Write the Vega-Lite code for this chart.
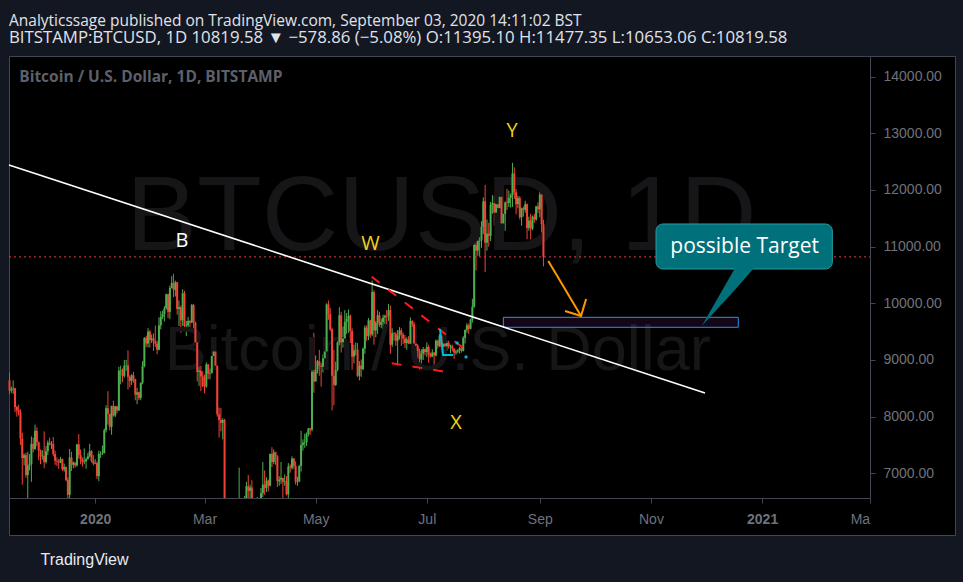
{
  "$schema": "https://vega.github.io/schema/vega-lite/v6.json",
  "width": 946,
  "height": 479,
  "autosize": {"type": "none"},
  "padding": {"left": 9, "top": 56, "right": 8, "bottom": 47},
  "background": "#131722",
  "view": {"fill": "#000000", "stroke": "#434651", "strokeWidth": 1},
  "title": {
    "text": "Analyticssage published on TradingView.com, September 03, 2020 14:11:02 BST",
    "subtitle": "BITSTAMP:BTCUSD, 1D 10819.58 ▼ −578.86 (−5.08%) O:11395.10 H:11477.35 L:10653.06 C:10819.58",
    "anchor": "start",
    "frame": "group",
    "orient": "top",
    "font": "Open Sans",
    "fontSize": 15.5,
    "fontWeight": "normal",
    "color": "#e0e3eb",
    "subtitleFont": "Open Sans",
    "subtitleFontSize": 16.8,
    "subtitleFontWeight": "normal",
    "subtitleColor": "#e0e3eb",
    "subtitlePadding": 1,
    "offset": 9
  },
  "datasets": {
    "candles": [
      {"d":"2019-11-15","o":8640,"h":8780,"l":8400,"c":8460},
      {"d":"2019-11-16","o":8460,"h":8530,"l":8420,"c":8490},
      {"d":"2019-11-17","o":8490,"h":8640,"l":8400,"c":8500},
      {"d":"2019-11-18","o":8500,"h":8510,"l":8080,"c":8170},
      {"d":"2019-11-19","o":8170,"h":8190,"l":8000,"c":8110},
      {"d":"2019-11-20","o":8110,"h":8210,"l":8020,"c":8070},
      {"d":"2019-11-21","o":8070,"h":8130,"l":7500,"c":7610},
      {"d":"2019-11-22","o":7610,"h":7720,"l":6800,"c":7270},
      {"d":"2019-11-23","o":7270,"h":7350,"l":7140,"c":7320},
      {"d":"2019-11-24","o":7320,"h":7360,"l":6920,"c":6970},
      {"d":"2019-11-25","o":6970,"h":7380,"l":6530,"c":7140},
      {"d":"2019-11-26","o":7140,"h":7340,"l":7050,"c":7160},
      {"d":"2019-11-27","o":7160,"h":7650,"l":6850,"c":7520},
      {"d":"2019-11-28","o":7520,"h":7630,"l":7370,"c":7430},
      {"d":"2019-11-29","o":7430,"h":7860,"l":7410,"c":7750},
      {"d":"2019-11-30","o":7750,"h":7810,"l":7480,"c":7550},
      {"d":"2019-12-01","o":7550,"h":7560,"l":7230,"c":7400},
      {"d":"2019-12-02","o":7400,"h":7420,"l":7160,"c":7300},
      {"d":"2019-12-03","o":7300,"h":7410,"l":7240,"c":7310},
      {"d":"2019-12-04","o":7310,"h":7740,"l":7090,"c":7200},
      {"d":"2019-12-05","o":7200,"h":7480,"l":7170,"c":7390},
      {"d":"2019-12-06","o":7390,"h":7580,"l":7320,"c":7540},
      {"d":"2019-12-07","o":7540,"h":7630,"l":7490,"c":7510},
      {"d":"2019-12-08","o":7510,"h":7570,"l":7430,"c":7520},
      {"d":"2019-12-09","o":7520,"h":7640,"l":7300,"c":7340},
      {"d":"2019-12-10","o":7340,"h":7400,"l":7150,"c":7220},
      {"d":"2019-12-11","o":7220,"h":7280,"l":7130,"c":7210},
      {"d":"2019-12-12","o":7210,"h":7250,"l":7080,"c":7190},
      {"d":"2019-12-13","o":7190,"h":7290,"l":7180,"c":7250},
      {"d":"2019-12-14","o":7250,"h":7260,"l":7040,"c":7070},
      {"d":"2019-12-15","o":7070,"h":7170,"l":7030,"c":7110},
      {"d":"2019-12-16","o":7110,"h":7120,"l":6860,"c":6880},
      {"d":"2019-12-17","o":6880,"h":6930,"l":6560,"c":6620},
      {"d":"2019-12-18","o":6620,"h":7430,"l":6430,"c":7280},
      {"d":"2019-12-19","o":7280,"h":7380,"l":7040,"c":7150},
      {"d":"2019-12-20","o":7150,"h":7210,"l":7090,"c":7190},
      {"d":"2019-12-21","o":7190,"h":7190,"l":7100,"c":7140},
      {"d":"2019-12-22","o":7140,"h":7520,"l":7120,"c":7510},
      {"d":"2019-12-23","o":7510,"h":7690,"l":7260,"c":7320},
      {"d":"2019-12-24","o":7320,"h":7420,"l":7160,"c":7250},
      {"d":"2019-12-25","o":7250,"h":7280,"l":7120,"c":7200},
      {"d":"2019-12-26","o":7200,"h":7440,"l":7160,"c":7210},
      {"d":"2019-12-27","o":7210,"h":7280,"l":7080,"c":7250},
      {"d":"2019-12-28","o":7250,"h":7360,"l":7240,"c":7300},
      {"d":"2019-12-29","o":7300,"h":7520,"l":7280,"c":7390},
      {"d":"2019-12-30","o":7390,"h":7410,"l":7190,"c":7220},
      {"d":"2019-12-31","o":7220,"h":7320,"l":7140,"c":7170},
      {"d":"2020-01-01","o":7170,"h":7250,"l":7160,"c":7180},
      {"d":"2020-01-02","o":7180,"h":7210,"l":6900,"c":6950},
      {"d":"2020-01-03","o":6950,"h":7400,"l":6860,"c":7340},
      {"d":"2020-01-04","o":7340,"h":7390,"l":7270,"c":7350},
      {"d":"2020-01-05","o":7350,"h":7490,"l":7320,"c":7355},
      {"d":"2020-01-06","o":7355,"h":7790,"l":7350,"c":7760},
      {"d":"2020-01-07","o":7760,"h":8200,"l":7720,"c":8150},
      {"d":"2020-01-08","o":8150,"h":8450,"l":7860,"c":8050},
      {"d":"2020-01-09","o":8050,"h":8050,"l":7760,"c":7820},
      {"d":"2020-01-10","o":7820,"h":8190,"l":7680,"c":8190},
      {"d":"2020-01-11","o":8190,"h":8280,"l":8000,"c":8020},
      {"d":"2020-01-12","o":8020,"h":8190,"l":7990,"c":8180},
      {"d":"2020-01-13","o":8180,"h":8190,"l":8060,"c":8110},
      {"d":"2020-01-14","o":8110,"h":8880,"l":8100,"c":8810},
      {"d":"2020-01-15","o":8810,"h":8900,"l":8570,"c":8820},
      {"d":"2020-01-16","o":8820,"h":8850,"l":8610,"c":8720},
      {"d":"2020-01-17","o":8720,"h":9000,"l":8690,"c":8900},
      {"d":"2020-01-18","o":8900,"h":9000,"l":8810,"c":8905},
      {"d":"2020-01-19","o":8905,"h":9170,"l":8480,"c":8700},
      {"d":"2020-01-20","o":8700,"h":8730,"l":8520,"c":8630},
      {"d":"2020-01-21","o":8630,"h":8750,"l":8560,"c":8730},
      {"d":"2020-01-22","o":8730,"h":8790,"l":8600,"c":8660},
      {"d":"2020-01-23","o":8660,"h":8670,"l":8290,"c":8390},
      {"d":"2020-01-24","o":8390,"h":8510,"l":8220,"c":8430},
      {"d":"2020-01-25","o":8430,"h":8440,"l":8290,"c":8330},
      {"d":"2020-01-26","o":8330,"h":8600,"l":8290,"c":8600},
      {"d":"2020-01-27","o":8600,"h":8980,"l":8570,"c":8890},
      {"d":"2020-01-28","o":8890,"h":9400,"l":8870,"c":9390},
      {"d":"2020-01-29","o":9390,"h":9430,"l":9230,"c":9290},
      {"d":"2020-01-30","o":9290,"h":9560,"l":9220,"c":9500},
      {"d":"2020-01-31","o":9500,"h":9530,"l":9220,"c":9350},
      {"d":"2020-02-01","o":9350,"h":9450,"l":9300,"c":9380},
      {"d":"2020-02-02","o":9380,"h":9470,"l":9160,"c":9330},
      {"d":"2020-02-03","o":9330,"h":9610,"l":9230,"c":9290},
      {"d":"2020-02-04","o":9290,"h":9340,"l":9100,"c":9180},
      {"d":"2020-02-05","o":9180,"h":9750,"l":9170,"c":9610},
      {"d":"2020-02-06","o":9610,"h":9860,"l":9540,"c":9760},
      {"d":"2020-02-07","o":9760,"h":9870,"l":9720,"c":9810},
      {"d":"2020-02-08","o":9810,"h":9950,"l":9680,"c":9910},
      {"d":"2020-02-09","o":9910,"h":10170,"l":9890,"c":10160},
      {"d":"2020-02-10","o":10160,"h":10170,"l":9740,"c":9850},
      {"d":"2020-02-11","o":9850,"h":10310,"l":9720,"c":10270},
      {"d":"2020-02-12","o":10270,"h":10480,"l":10260,"c":10360},
      {"d":"2020-02-13","o":10360,"h":10520,"l":10110,"c":10240},
      {"d":"2020-02-14","o":10240,"h":10400,"l":10120,"c":10370},
      {"d":"2020-02-15","o":10370,"h":10380,"l":9800,"c":9900},
      {"d":"2020-02-16","o":9900,"h":10050,"l":9600,"c":9930},
      {"d":"2020-02-17","o":9930,"h":9960,"l":9480,"c":9700},
      {"d":"2020-02-18","o":9700,"h":10250,"l":9600,"c":10180},
      {"d":"2020-02-19","o":10180,"h":10220,"l":9580,"c":9600},
      {"d":"2020-02-20","o":9600,"h":9690,"l":9420,"c":9610},
      {"d":"2020-02-21","o":9610,"h":9760,"l":9560,"c":9690},
      {"d":"2020-02-22","o":9690,"h":9700,"l":9580,"c":9660},
      {"d":"2020-02-23","o":9660,"h":9990,"l":9650,"c":9970},
      {"d":"2020-02-24","o":9970,"h":9990,"l":9500,"c":9660},
      {"d":"2020-02-25","o":9660,"h":9680,"l":9260,"c":9310},
      {"d":"2020-02-26","o":9310,"h":9380,"l":8620,"c":8790},
      {"d":"2020-02-27","o":8790,"h":8980,"l":8540,"c":8810},
      {"d":"2020-02-28","o":8810,"h":8900,"l":8450,"c":8710},
      {"d":"2020-02-29","o":8710,"h":8800,"l":8520,"c":8540},
      {"d":"2020-03-01","o":8540,"h":8740,"l":8410,"c":8530},
      {"d":"2020-03-02","o":8530,"h":8960,"l":8510,"c":8920},
      {"d":"2020-03-03","o":8920,"h":8930,"l":8660,"c":8760},
      {"d":"2020-03-04","o":8760,"h":8850,"l":8660,"c":8770},
      {"d":"2020-03-05","o":8770,"h":9140,"l":8760,"c":9070},
      {"d":"2020-03-06","o":9070,"h":9180,"l":8990,"c":9150},
      {"d":"2020-03-07","o":9150,"h":9200,"l":8860,"c":8900},
      {"d":"2020-03-08","o":8900,"h":8900,"l":8000,"c":8040},
      {"d":"2020-03-09","o":8040,"h":8160,"l":7630,"c":7940},
      {"d":"2020-03-10","o":7940,"h":8150,"l":7740,"c":7890},
      {"d":"2020-03-11","o":7890,"h":7970,"l":7600,"c":7940},
      {"d":"2020-03-12","o":7940,"h":7960,"l":4450,"c":4860},
      {"d":"2020-03-13","o":4860,"h":5950,"l":3850,"c":5620},
      {"d":"2020-03-14","o":5620,"h":5640,"l":5080,"c":5180},
      {"d":"2020-03-15","o":5180,"h":5600,"l":5100,"c":5360},
      {"d":"2020-03-16","o":5360,"h":5380,"l":4450,"c":5010},
      {"d":"2020-03-17","o":5010,"h":5550,"l":4950,"c":5330},
      {"d":"2020-03-18","o":5330,"h":5450,"l":5110,"c":5410},
      {"d":"2020-03-19","o":5410,"h":6400,"l":5270,"c":6190},
      {"d":"2020-03-20","o":6190,"h":7100,"l":5700,"c":6200},
      {"d":"2020-03-21","o":6200,"h":6450,"l":5860,"c":6190},
      {"d":"2020-03-22","o":6190,"h":6400,"l":5760,"c":5830},
      {"d":"2020-03-23","o":5830,"h":6600,"l":5700,"c":6470},
      {"d":"2020-03-24","o":6470,"h":6850,"l":6420,"c":6770},
      {"d":"2020-03-25","o":6770,"h":6970,"l":6540,"c":6690},
      {"d":"2020-03-26","o":6690,"h":6800,"l":6540,"c":6750},
      {"d":"2020-03-27","o":6750,"h":6880,"l":6270,"c":6370},
      {"d":"2020-03-28","o":6370,"h":6380,"l":6030,"c":6250},
      {"d":"2020-03-29","o":6250,"h":6270,"l":5860,"c":5880},
      {"d":"2020-03-30","o":5880,"h":6580,"l":5860,"c":6400},
      {"d":"2020-03-31","o":6400,"h":6520,"l":6330,"c":6430},
      {"d":"2020-04-01","o":6430,"h":6740,"l":6160,"c":6650},
      {"d":"2020-04-02","o":6650,"h":7200,"l":6580,"c":6800},
      {"d":"2020-04-03","o":6800,"h":7050,"l":6620,"c":6740},
      {"d":"2020-04-04","o":6740,"h":6930,"l":6670,"c":6870},
      {"d":"2020-04-05","o":6870,"h":6890,"l":6680,"c":6780},
      {"d":"2020-04-06","o":6780,"h":7350,"l":6770,"c":7340},
      {"d":"2020-04-07","o":7340,"h":7460,"l":7110,"c":7200},
      {"d":"2020-04-08","o":7200,"h":7420,"l":7160,"c":7370},
      {"d":"2020-04-09","o":7370,"h":7380,"l":7150,"c":7300},
      {"d":"2020-04-10","o":7300,"h":7320,"l":6760,"c":6860},
      {"d":"2020-04-11","o":6860,"h":6950,"l":6780,"c":6890},
      {"d":"2020-04-12","o":6890,"h":7200,"l":6810,"c":6920},
      {"d":"2020-04-13","o":6920,"h":6920,"l":6560,"c":6850},
      {"d":"2020-04-14","o":6850,"h":6980,"l":6780,"c":6860},
      {"d":"2020-04-15","o":6860,"h":6950,"l":6610,"c":6630},
      {"d":"2020-04-16","o":6630,"h":7180,"l":6480,"c":7120},
      {"d":"2020-04-17","o":7120,"h":7160,"l":7010,"c":7100},
      {"d":"2020-04-18","o":7100,"h":7300,"l":7060,"c":7260},
      {"d":"2020-04-19","o":7260,"h":7270,"l":7080,"c":7130},
      {"d":"2020-04-20","o":7130,"h":7210,"l":6800,"c":6850},
      {"d":"2020-04-21","o":6850,"h":6940,"l":6780,"c":6860},
      {"d":"2020-04-22","o":6860,"h":7150,"l":6840,"c":7130},
      {"d":"2020-04-23","o":7130,"h":7750,"l":7030,"c":7500},
      {"d":"2020-04-24","o":7500,"h":7600,"l":7400,"c":7540},
      {"d":"2020-04-25","o":7540,"h":7700,"l":7450,"c":7550},
      {"d":"2020-04-26","o":7550,"h":7720,"l":7480,"c":7690},
      {"d":"2020-04-27","o":7690,"h":7800,"l":7650,"c":7790},
      {"d":"2020-04-28","o":7790,"h":7800,"l":7680,"c":7770},
      {"d":"2020-04-29","o":7770,"h":8950,"l":7740,"c":8790},
      {"d":"2020-04-30","o":8790,"h":9480,"l":8420,"c":8620},
      {"d":"2020-05-01","o":8620,"h":9080,"l":8620,"c":8830},
      {"d":"2020-05-02","o":8830,"h":9000,"l":8760,"c":8980},
      {"d":"2020-05-03","o":8980,"h":9180,"l":8720,"c":8900},
      {"d":"2020-05-04","o":8900,"h":8950,"l":8530,"c":8880},
      {"d":"2020-05-05","o":8880,"h":9100,"l":8780,"c":9030},
      {"d":"2020-05-06","o":9030,"h":9390,"l":8930,"c":9150},
      {"d":"2020-05-07","o":9150,"h":10000,"l":9050,"c":9980},
      {"d":"2020-05-08","o":9980,"h":10050,"l":9710,"c":9810},
      {"d":"2020-05-09","o":9810,"h":9920,"l":9510,"c":9540},
      {"d":"2020-05-10","o":9540,"h":9570,"l":8110,"c":8720},
      {"d":"2020-05-11","o":8720,"h":9180,"l":8200,"c":8560},
      {"d":"2020-05-12","o":8560,"h":8970,"l":8540,"c":8820},
      {"d":"2020-05-13","o":8820,"h":9330,"l":8800,"c":9310},
      {"d":"2020-05-14","o":9310,"h":9930,"l":9260,"c":9790},
      {"d":"2020-05-15","o":9790,"h":9850,"l":9130,"c":9310},
      {"d":"2020-05-16","o":9310,"h":9590,"l":9220,"c":9380},
      {"d":"2020-05-17","o":9380,"h":9880,"l":9340,"c":9670},
      {"d":"2020-05-18","o":9670,"h":9830,"l":9460,"c":9730},
      {"d":"2020-05-19","o":9730,"h":9890,"l":9480,"c":9780},
      {"d":"2020-05-20","o":9780,"h":9800,"l":9300,"c":9510},
      {"d":"2020-05-21","o":9510,"h":9560,"l":8830,"c":9060},
      {"d":"2020-05-22","o":9060,"h":9270,"l":8940,"c":9170},
      {"d":"2020-05-23","o":9170,"h":9310,"l":9080,"c":9180},
      {"d":"2020-05-24","o":9180,"h":9300,"l":8700,"c":8720},
      {"d":"2020-05-25","o":8720,"h":8980,"l":8640,"c":8900},
      {"d":"2020-05-26","o":8900,"h":9010,"l":8700,"c":8840},
      {"d":"2020-05-27","o":8840,"h":9220,"l":8820,"c":9200},
      {"d":"2020-05-28","o":9200,"h":9610,"l":9110,"c":9570},
      {"d":"2020-05-29","o":9570,"h":9610,"l":9340,"c":9420},
      {"d":"2020-05-30","o":9420,"h":9740,"l":9350,"c":9700},
      {"d":"2020-05-31","o":9700,"h":9700,"l":9390,"c":9450},
      {"d":"2020-06-01","o":9450,"h":10400,"l":9420,"c":10200},
      {"d":"2020-06-02","o":10200,"h":10230,"l":9270,"c":9520},
      {"d":"2020-06-03","o":9520,"h":9690,"l":9400,"c":9660},
      {"d":"2020-06-04","o":9660,"h":9880,"l":9460,"c":9790},
      {"d":"2020-06-05","o":9790,"h":9850,"l":9580,"c":9620},
      {"d":"2020-06-06","o":9620,"h":9730,"l":9560,"c":9670},
      {"d":"2020-06-07","o":9670,"h":9800,"l":9380,"c":9750},
      {"d":"2020-06-08","o":9750,"h":9800,"l":9620,"c":9780},
      {"d":"2020-06-09","o":9780,"h":9880,"l":9570,"c":9770},
      {"d":"2020-06-10","o":9770,"h":9990,"l":9690,"c":9880},
      {"d":"2020-06-11","o":9880,"h":9960,"l":9110,"c":9270},
      {"d":"2020-06-12","o":9270,"h":9560,"l":9230,"c":9470},
      {"d":"2020-06-13","o":9470,"h":9490,"l":9340,"c":9460},
      {"d":"2020-06-14","o":9460,"h":9490,"l":9250,"c":9340},
      {"d":"2020-06-15","o":9340,"h":9530,"l":8900,"c":9430},
      {"d":"2020-06-16","o":9430,"h":9580,"l":9360,"c":9520},
      {"d":"2020-06-17","o":9520,"h":9560,"l":9250,"c":9450},
      {"d":"2020-06-18","o":9450,"h":9480,"l":9280,"c":9380},
      {"d":"2020-06-19","o":9380,"h":9440,"l":9210,"c":9300},
      {"d":"2020-06-20","o":9300,"h":9400,"l":9180,"c":9360},
      {"d":"2020-06-21","o":9360,"h":9420,"l":9280,"c":9290},
      {"d":"2020-06-22","o":9290,"h":9750,"l":9280,"c":9690},
      {"d":"2020-06-23","o":9690,"h":9700,"l":9580,"c":9630},
      {"d":"2020-06-24","o":9630,"h":9670,"l":9220,"c":9290},
      {"d":"2020-06-25","o":9290,"h":9330,"l":9000,"c":9250},
      {"d":"2020-06-26","o":9250,"h":9280,"l":9030,"c":9160},
      {"d":"2020-06-27","o":9160,"h":9200,"l":8830,"c":9010},
      {"d":"2020-06-28","o":9010,"h":9190,"l":8940,"c":9110},
      {"d":"2020-06-29","o":9110,"h":9230,"l":9000,"c":9190},
      {"d":"2020-06-30","o":9190,"h":9200,"l":9080,"c":9140},
      {"d":"2020-07-01","o":9140,"h":9310,"l":9050,"c":9230},
      {"d":"2020-07-02","o":9230,"h":9270,"l":8950,"c":9090},
      {"d":"2020-07-03","o":9090,"h":9130,"l":9040,"c":9060},
      {"d":"2020-07-04","o":9060,"h":9190,"l":9050,"c":9130},
      {"d":"2020-07-05","o":9130,"h":9140,"l":8900,"c":9080},
      {"d":"2020-07-06","o":9080,"h":9360,"l":9060,"c":9340},
      {"d":"2020-07-07","o":9340,"h":9360,"l":9200,"c":9250},
      {"d":"2020-07-08","o":9250,"h":9460,"l":9230,"c":9430},
      {"d":"2020-07-09","o":9430,"h":9440,"l":9150,"c":9230},
      {"d":"2020-07-10","o":9230,"h":9300,"l":9130,"c":9290},
      {"d":"2020-07-11","o":9290,"h":9300,"l":9190,"c":9240},
      {"d":"2020-07-12","o":9240,"h":9340,"l":9160,"c":9300},
      {"d":"2020-07-13","o":9300,"h":9340,"l":9200,"c":9240},
      {"d":"2020-07-14","o":9240,"h":9270,"l":9120,"c":9250},
      {"d":"2020-07-15","o":9250,"h":9270,"l":9150,"c":9200},
      {"d":"2020-07-16","o":9200,"h":9210,"l":9020,"c":9130},
      {"d":"2020-07-17","o":9130,"h":9180,"l":9090,"c":9150},
      {"d":"2020-07-18","o":9150,"h":9190,"l":9120,"c":9170},
      {"d":"2020-07-19","o":9170,"h":9230,"l":9110,"c":9210},
      {"d":"2020-07-20","o":9210,"h":9220,"l":9130,"c":9160},
      {"d":"2020-07-21","o":9160,"h":9420,"l":9150,"c":9390},
      {"d":"2020-07-22","o":9390,"h":9540,"l":9290,"c":9530},
      {"d":"2020-07-23","o":9530,"h":9650,"l":9480,"c":9610},
      {"d":"2020-07-24","o":9610,"h":9640,"l":9460,"c":9550},
      {"d":"2020-07-25","o":9550,"h":9730,"l":9540,"c":9710},
      {"d":"2020-07-26","o":9710,"h":10080,"l":9660,"c":9940},
      {"d":"2020-07-27","o":9940,"h":11400,"l":9920,"c":11030},
      {"d":"2020-07-28","o":11030,"h":11250,"l":10580,"c":10930},
      {"d":"2020-07-29","o":10930,"h":11350,"l":10840,"c":11100},
      {"d":"2020-07-30","o":11100,"h":11170,"l":10830,"c":11110},
      {"d":"2020-07-31","o":11110,"h":11450,"l":10980,"c":11350},
      {"d":"2020-08-01","o":11350,"h":11870,"l":11220,"c":11800},
      {"d":"2020-08-02","o":11800,"h":12090,"l":10550,"c":11070},
      {"d":"2020-08-03","o":11070,"h":11480,"l":10930,"c":11230},
      {"d":"2020-08-04","o":11230,"h":11420,"l":11000,"c":11190},
      {"d":"2020-08-05","o":11190,"h":11790,"l":11100,"c":11740},
      {"d":"2020-08-06","o":11740,"h":11910,"l":11580,"c":11770},
      {"d":"2020-08-07","o":11770,"h":11900,"l":11370,"c":11600},
      {"d":"2020-08-08","o":11600,"h":11800,"l":11540,"c":11750},
      {"d":"2020-08-09","o":11750,"h":11800,"l":11550,"c":11680},
      {"d":"2020-08-10","o":11680,"h":12080,"l":11470,"c":11880},
      {"d":"2020-08-11","o":11880,"h":12060,"l":11160,"c":11410},
      {"d":"2020-08-12","o":11410,"h":11630,"l":11160,"c":11580},
      {"d":"2020-08-13","o":11580,"h":11800,"l":11280,"c":11780},
      {"d":"2020-08-14","o":11780,"h":12020,"l":11650,"c":11770},
      {"d":"2020-08-15","o":11770,"h":11990,"l":11700,"c":11860},
      {"d":"2020-08-16","o":11860,"h":11940,"l":11690,"c":11910},
      {"d":"2020-08-17","o":11910,"h":12480,"l":11700,"c":12290},
      {"d":"2020-08-18","o":12290,"h":12400,"l":11840,"c":11960},
      {"d":"2020-08-19","o":11960,"h":12020,"l":11570,"c":11750},
      {"d":"2020-08-20","o":11750,"h":11900,"l":11680,"c":11860},
      {"d":"2020-08-21","o":11860,"h":11890,"l":11480,"c":11520},
      {"d":"2020-08-22","o":11520,"h":11690,"l":11370,"c":11680},
      {"d":"2020-08-23","o":11680,"h":11710,"l":11530,"c":11650},
      {"d":"2020-08-24","o":11650,"h":11810,"l":11600,"c":11750},
      {"d":"2020-08-25","o":11750,"h":11760,"l":11130,"c":11330},
      {"d":"2020-08-26","o":11330,"h":11530,"l":11280,"c":11460},
      {"d":"2020-08-27","o":11460,"h":11580,"l":11130,"c":11320},
      {"d":"2020-08-28","o":11320,"h":11550,"l":11290,"c":11530},
      {"d":"2020-08-29","o":11530,"h":11580,"l":11420,"c":11480},
      {"d":"2020-08-30","o":11480,"h":11720,"l":11460,"c":11710},
      {"d":"2020-08-31","o":11710,"h":11780,"l":11590,"c":11660},
      {"d":"2020-09-01","o":11660,"h":12070,"l":11520,"c":11920},
      {"d":"2020-09-02","o":11920,"h":11950,"l":11180,"c":11395.1},
      {"d":"2020-09-03","o":11395.1,"h":11477.35,"l":10653.06,"c":10819.58}
    ]
  },
  "layer": [
    {
      "data": {"name": "candles"},
      "mark": {"type": "rule", "strokeWidth": 1},
      "encoding": {
        "x": {
          "field": "d", "type": "temporal",
          "scale": {"type": "utc", "domain": [{"year": 2019, "month": 11, "date": 14, "hours": 17, "utc": true}, {"year": 2021, "month": 3, "date": 1, "hours": 5, "utc": true}], "range": [0, 861], "clamp": true},
          "axis": {
            "orient": "bottom",
            "offset": -37,
            "values": [
              {"year": 2020, "month": 1, "date": 1, "utc": true},
              {"year": 2020, "month": 3, "date": 1, "utc": true},
              {"year": 2020, "month": 5, "date": 1, "utc": true},
              {"year": 2020, "month": 7, "date": 1, "utc": true},
              {"year": 2020, "month": 9, "date": 1, "utc": true},
              {"year": 2020, "month": 11, "date": 1, "utc": true},
              {"year": 2021, "month": 1, "date": 1, "utc": true},
              {"year": 2021, "month": 3, "date": 1, "utc": true}
            ],
            "labelExpr": "utcmonth(datum.value) == 0 ? utcFormat(datum.value, '%Y') : (utcyear(datum.value) == 2021 ? 'Ma' : utcFormat(datum.value, '%b'))",
            "labelAlign": {"condition": {"test": "utcyear(datum.value) == 2021 && utcmonth(datum.value) == 2", "value": "right"}, "value": "center"},
            "labelFontWeight": {"condition": {"test": "utcmonth(datum.value) == 0", "value": "bold"}, "value": "normal"},
            "labelFont": "Liberation Sans",
            "labelFontSize": 14,
            "labelColor": "#6f727d",
            "labelBaseline": "middle",
            "labelPadding": 16,
            "labelFlush": false,
            "labelOverlap": false,
            "tickSize": 5,
            "tickColor": "#434651",
            "domainColor": "#434651",
            "grid": false,
            "title": "TradingView",
            "titleX": 31,
            "titleY": 61,
            "titleAlign": "left",
            "titleAnchor": "start",
            "titleBaseline": "middle",
            "titleFont": "Liberation Sans",
            "titleFontSize": 16,
            "titleFontWeight": "normal",
            "titleColor": "#e8eaf0"
          }
        },
        "y": {
          "field": "l", "type": "quantitative",
          "scale": {"domain": [6564, 14365], "range": [442, 0], "zero": false, "nice": false, "clamp": true},
          "axis": {
            "orient": "right",
            "offset": -85,
            "values": [7000, 8000, 9000, 10000, 11000, 12000, 13000, 14000],
            "format": ".2f",
            "labelFont": "Liberation Sans",
            "labelFontSize": 14,
            "labelColor": "#6f727d",
            "labelPadding": 8,
            "labelBaseline": "middle",
            "labelFlush": false,
            "tickSize": 5,
            "tickColor": "#434651",
            "domainColor": "#434651",
            "grid": false,
            "title": null
          }
        },
        "y2": {"field": "h"},
        "color": {"condition": {"test": "datum.c >= datum.o", "value": "#4caf50"}, "value": "#f44336"}
      }
    },
    {
      "data": {"values": [{"t": "BTCUSD, 1D", "d": "2020-07-09T00:00:00Z", "p": 10941}]},
      "mark": {"type": "text", "font": "Liberation Sans", "fontSize": 106, "color": "#161618", "align": "center", "baseline": "alphabetic"},
      "encoding": {
        "x": {"field": "d", "type": "temporal", "scale": {"type": "utc", "domain": [{"year": 2019, "month": 11, "date": 14, "hours": 17, "utc": true}, {"year": 2021, "month": 3, "date": 1, "hours": 5, "utc": true}], "range": [0, 861], "clamp": true}},
        "y": {"field": "p", "type": "quantitative", "scale": {"domain": [6564, 14365], "range": [442, 0], "zero": false, "nice": false, "clamp": true}},
        "text": {"field": "t"}
      }
    },
    {
      "data": {"values": [{"t": "Bitcoin / U.S. Dollar", "d": "2020-07-07T00:00:00Z", "p": 8823}]},
      "mark": {"type": "text", "font": "Liberation Sans", "fontSize": 63, "color": "#161618", "align": "center", "baseline": "alphabetic"},
      "encoding": {
        "x": {"field": "d", "type": "temporal", "scale": {"type": "utc", "domain": [{"year": 2019, "month": 11, "date": 14, "hours": 17, "utc": true}, {"year": 2021, "month": 3, "date": 1, "hours": 5, "utc": true}], "range": [0, 861], "clamp": true}},
        "y": {"field": "p", "type": "quantitative", "scale": {"domain": [6564, 14365], "range": [442, 0], "zero": false, "nice": false, "clamp": true}},
        "text": {"field": "t"}
      }
    },
    {
      "data": {"values": [{"t": "Bitcoin / U.S. Dollar, 1D, BITSTAMP", "d": "2019-11-20T08:00:00Z", "p": 13994}]},
      "mark": {"type": "text", "font": "Open Sans", "fontSize": 15.5, "fontWeight": "bold", "color": "#5d606b", "align": "left", "baseline": "middle"},
      "encoding": {
        "x": {"field": "d", "type": "temporal", "scale": {"type": "utc", "domain": [{"year": 2019, "month": 11, "date": 14, "hours": 17, "utc": true}, {"year": 2021, "month": 3, "date": 1, "hours": 5, "utc": true}], "range": [0, 861], "clamp": true}},
        "y": {"field": "p", "type": "quantitative", "scale": {"domain": [6564, 14365], "range": [442, 0], "zero": false, "nice": false, "clamp": true}},
        "text": {"field": "t"}
      }
    },
    {
      "data": {"values": [{"d": "2019-11-14T17:00:00Z", "d2": "2021-03-01T05:00:00Z", "p": 10819.58}]},
      "mark": {"type": "rule", "color": "#f23645", "strokeWidth": 1, "strokeDash": [2, 3]},
      "encoding": {
        "x": {"field": "d", "type": "temporal", "scale": {"type": "utc", "domain": [{"year": 2019, "month": 11, "date": 14, "hours": 17, "utc": true}, {"year": 2021, "month": 3, "date": 1, "hours": 5, "utc": true}], "range": [0, 861], "clamp": true}},
        "x2": {"field": "d2"},
        "y": {"field": "p", "type": "quantitative", "scale": {"domain": [6564, 14365], "range": [442, 0], "zero": false, "nice": false, "clamp": true}}
      }
    },
    {
      "data": {"values": [{"d": "2020-08-12T00:00:00Z", "d2": "2020-12-18T22:00:00Z", "p": 9577, "p2": 9753}]},
      "mark": {"type": "rect", "fill": "#9c27b0", "fillOpacity": 0.13, "stroke": "#2196f3", "strokeWidth": 1},
      "encoding": {
        "x": {"field": "d", "type": "temporal", "scale": {"type": "utc", "domain": [{"year": 2019, "month": 11, "date": 14, "hours": 17, "utc": true}, {"year": 2021, "month": 3, "date": 1, "hours": 5, "utc": true}], "range": [0, 861], "clamp": true}},
        "x2": {"field": "d2"},
        "y": {"field": "p", "type": "quantitative", "scale": {"domain": [6564, 14365], "range": [442, 0], "zero": false, "nice": false, "clamp": true}},
        "y2": {"field": "p2"}
      }
    },
    {
      "data": {"name": "candles"},
      "mark": {"type": "rule", "strokeWidth": 2},
      "encoding": {
        "x": {"field": "d", "type": "temporal", "scale": {"type": "utc", "domain": [{"year": 2019, "month": 11, "date": 14, "hours": 17, "utc": true}, {"year": 2021, "month": 3, "date": 1, "hours": 5, "utc": true}], "range": [0, 861], "clamp": true}},
        "y": {"field": "o", "type": "quantitative", "scale": {"domain": [6564, 14365], "range": [442, 0], "zero": false, "nice": false, "clamp": true}},
        "y2": {"field": "c"},
        "color": {"condition": {"test": "datum.c >= datum.o", "value": "#4caf50"}, "value": "#f44336"}
      }
    },
    {
      "data": {"values": [{"d": "2019-11-14T17:00:00Z", "p": 12441}, {"d": "2020-11-30T16:00:00Z", "p": 8417}]},
      "mark": {"type": "line", "color": "#ffffff", "strokeWidth": 1.6},
      "encoding": {
        "x": {"field": "d", "type": "temporal", "scale": {"type": "utc", "domain": [{"year": 2019, "month": 11, "date": 14, "hours": 17, "utc": true}, {"year": 2021, "month": 3, "date": 1, "hours": 5, "utc": true}], "range": [0, 861], "clamp": true}},
        "y": {"field": "p", "type": "quantitative", "scale": {"domain": [6564, 14365], "range": [442, 0], "zero": false, "nice": false, "clamp": true}}
      }
    },
    {
      "data": {"values": [
        {"s": "upper", "d": "2020-05-31T18:00:00Z", "p": 10470},
        {"s": "upper", "d": "2020-07-22T21:00:00Z", "p": 9164},
        {"s": "lower", "d": "2020-06-11T17:00:00Z", "p": 8941},
        {"s": "lower", "d": "2020-07-11T00:00:00Z", "p": 8793}
      ]},
      "mark": {"type": "line", "color": "#ff1a1a", "strokeWidth": 2, "strokeDash": [10, 11]},
      "encoding": {
        "x": {"field": "d", "type": "temporal", "scale": {"type": "utc", "domain": [{"year": 2019, "month": 11, "date": 14, "hours": 17, "utc": true}, {"year": 2021, "month": 3, "date": 1, "hours": 5, "utc": true}], "range": [0, 861], "clamp": true}},
        "y": {"field": "p", "type": "quantitative", "scale": {"domain": [6564, 14365], "range": [442, 0], "zero": false, "nice": false, "clamp": true}},
        "detail": {"field": "s"}
      }
    },
    {
      "data": {"values": [
        {"d": "2020-07-08T05:00:00Z", "p": 9547},
        {"d": "2020-07-09T22:00:00Z", "p": 9088},
        {"d": "2020-07-15T10:00:00Z", "p": 9088}
      ]},
      "mark": {"type": "line", "color": "#00bcd4", "strokeWidth": 2},
      "encoding": {
        "x": {"field": "d", "type": "temporal", "scale": {"type": "utc", "domain": [{"year": 2019, "month": 11, "date": 14, "hours": 17, "utc": true}, {"year": 2021, "month": 3, "date": 1, "hours": 5, "utc": true}], "range": [0, 861], "clamp": true}},
        "y": {"field": "p", "type": "quantitative", "scale": {"domain": [6564, 14365], "range": [442, 0], "zero": false, "nice": false, "clamp": true}}
      }
    },
    {
      "data": {"values": [
        {"d": "2020-07-17T14:00:00Z", "p": 9300},
        {"d": "2020-07-22T12:00:00Z", "p": 9053}
      ]},
      "mark": {"type": "square", "color": "#00bcd4", "filled": true, "size": 8, "opacity": 1},
      "encoding": {
        "x": {"field": "d", "type": "temporal", "scale": {"type": "utc", "domain": [{"year": 2019, "month": 11, "date": 14, "hours": 17, "utc": true}, {"year": 2021, "month": 3, "date": 1, "hours": 5, "utc": true}], "range": [0, 861], "clamp": true}},
        "y": {"field": "p", "type": "quantitative", "scale": {"domain": [6564, 14365], "range": [442, 0], "zero": false, "nice": false, "clamp": true}}
      }
    },
    {
      "data": {"values": [
        {"s": "shaft", "k": 0, "d": "2020-09-05T16:00:00Z", "p": 10747},
        {"s": "shaft", "k": 1, "d": "2020-09-23T15:00:00Z", "p": 9776},
        {"s": "head", "k": 0, "d": "2020-09-14T20:00:00Z", "p": 9864},
        {"s": "head", "k": 1, "d": "2020-09-23T15:00:00Z", "p": 9776},
        {"s": "head", "k": 2, "d": "2020-09-26T10:00:00Z", "p": 10076}
      ]},
      "mark": {"type": "line", "color": "#ff9800", "strokeWidth": 2},
      "encoding": {
        "x": {"field": "d", "type": "temporal", "scale": {"type": "utc", "domain": [{"year": 2019, "month": 11, "date": 14, "hours": 17, "utc": true}, {"year": 2021, "month": 3, "date": 1, "hours": 5, "utc": true}], "range": [0, 861], "clamp": true}},
        "y": {"field": "p", "type": "quantitative", "scale": {"domain": [6564, 14365], "range": [442, 0], "zero": false, "nice": false, "clamp": true}},
        "detail": {"field": "s"},
        "order": {"field": "k"}
      }
    },
    {
      "data": {"values": [{"d": "2020-11-03T19:00:00Z", "d2": "2021-02-08T13:00:00Z", "p": 10606, "p2": 11400}]},
      "mark": {"type": "rect", "fill": "#00707a", "stroke": "#2a9ea5", "strokeWidth": 1, "cornerRadius": 7},
      "encoding": {
        "x": {"field": "d", "type": "temporal", "scale": {"type": "utc", "domain": [{"year": 2019, "month": 11, "date": 14, "hours": 17, "utc": true}, {"year": 2021, "month": 3, "date": 1, "hours": 5, "utc": true}], "range": [0, 861], "clamp": true}},
        "x2": {"field": "d2"},
        "y": {"field": "p", "type": "quantitative", "scale": {"domain": [6564, 14365], "range": [442, 0], "zero": false, "nice": false, "clamp": true}},
        "y2": {"field": "p2"}
      }
    },
    {
      "data": {"values": [
        {"d": "2020-11-28T21:00:00Z", "p": 9600, "p2": 9600},
        {"d": "2020-12-17T03:00:00Z", "p": 10625, "p2": 10240},
        {"d": "2020-12-27T14:00:00Z", "p": 10625, "p2": 10625}
      ]},
      "mark": {"type": "area", "color": "#00707a", "opacity": 1},
      "encoding": {
        "x": {"field": "d", "type": "temporal", "scale": {"type": "utc", "domain": [{"year": 2019, "month": 11, "date": 14, "hours": 17, "utc": true}, {"year": 2021, "month": 3, "date": 1, "hours": 5, "utc": true}], "range": [0, 861], "clamp": true}},
        "y": {"field": "p", "type": "quantitative", "scale": {"domain": [6564, 14365], "range": [442, 0], "zero": false, "nice": false, "clamp": true}},
        "y2": {"field": "p2"}
      }
    },
    {
      "data": {"values": [{"t": "possible Target", "d": "2020-12-22T10:00:00Z", "p": 10893}]},
      "mark": {"type": "text", "font": "Open Sans", "fontSize": 21, "color": "#ffffff", "align": "center", "baseline": "alphabetic"},
      "encoding": {
        "x": {"field": "d", "type": "temporal", "scale": {"type": "utc", "domain": [{"year": 2019, "month": 11, "date": 14, "hours": 17, "utc": true}, {"year": 2021, "month": 3, "date": 1, "hours": 5, "utc": true}], "range": [0, 861], "clamp": true}},
        "y": {"field": "p", "type": "quantitative", "scale": {"domain": [6564, 14365], "range": [442, 0], "zero": false, "nice": false, "clamp": true}},
        "text": {"field": "t"}
      }
    },
    {
      "data": {"values": [
        {"t": "B", "d": "2020-02-17T14:00:00Z", "p": 10989},
        {"t": "W", "d": "2020-05-31T02:00:00Z", "p": 10941},
        {"t": "X", "d": "2020-07-17T00:00:00Z", "p": 7773},
        {"t": "Y", "d": "2020-08-16T18:00:00Z", "p": 12927}
      ]},
      "mark": {"type": "text", "font": "Open Sans", "fontSize": 20, "align": "center", "baseline": "alphabetic"},
      "encoding": {
        "x": {"field": "d", "type": "temporal", "scale": {"type": "utc", "domain": [{"year": 2019, "month": 11, "date": 14, "hours": 17, "utc": true}, {"year": 2021, "month": 3, "date": 1, "hours": 5, "utc": true}], "range": [0, 861], "clamp": true}},
        "y": {"field": "p", "type": "quantitative", "scale": {"domain": [6564, 14365], "range": [442, 0], "zero": false, "nice": false, "clamp": true}},
        "text": {"field": "t"},
        "color": {"condition": {"test": "datum.t == 'B'", "value": "#ffffff"}, "value": "#f2d21b"}
      }
    }
  ]
}
